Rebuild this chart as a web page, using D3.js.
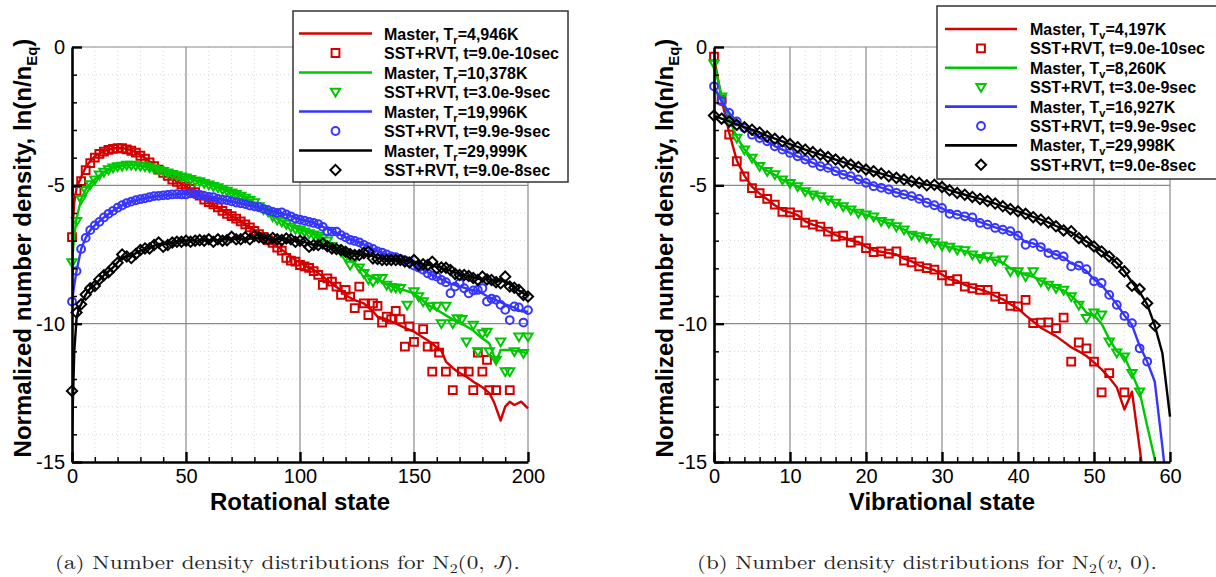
<!DOCTYPE html>
<html><head><meta charset="utf-8">
<script src="https://cdn.jsdelivr.net/npm/d3@7"></script>
<style>
body{margin:0;background:#fff;}
svg{display:block;}
text{font-family:"Liberation Sans",Arial,Helvetica,sans-serif;}
text.cap{font-family:"Latin Modern Roman","CMU Serif","Liberation Serif","DejaVu Serif",serif;}
</style></head><body>
<svg id="c" width="1216" height="577"></svg>
<script>
// ---------------- DATA ----------------
// Panel (a): rotational state J
const rotXTicks = [0, 50, 100, 150, 200];
const rotYTicks = [0, -5, -10, -15];
const rotMasterTemps = ["4,946K", "10,378K", "19,996K", "29,999K"];
const sstTimes = ["9.0e-10sec", "3.0e-9sec", "9.9e-9sec", "9.0e-8sec"];

const rotRedSymJ = [0,2,4,6,8,10,12,14,16,18,20,22,24,26,28,30,32,34,36,38,40,42,44,46,48,50,52,54,56,58,60,62,64,66,68,70,72,74,76,78,80,82,84,86,88,90,92,94,96,98,100,102,104,106,108,110,112,114,116,118,120,122,124,126,128,130,132,134,136,138,140,142,144,146,148,150,154,156,158,159,161,164,167,171,174,176,178,180,182,183,186,192];
const rotRedSymV = [-6.87,-5.2,-4.85,-4.45,-4.2,-4.0,-3.86,-3.78,-3.72,-3.68,-3.66,-3.66,-3.70,-3.75,-3.82,-3.93,-4.04,-4.17,-4.31,-4.43,-4.55,-4.66,-4.79,-4.87,-4.96,-5.05,-5.13,-5.25,-5.37,-5.52,-5.61,-5.69,-5.8,-5.92,-6.03,-6.11,-6.2,-6.3,-6.41,-6.52,-6.65,-6.76,-6.86,-6.98,-7.08,-7.25,-7.36,-7.62,-7.72,-7.76,-7.88,-7.93,-7.98,-8.1,-8.24,-8.6,-8.36,-8.48,-8.66,-8.96,-8.78,-9.02,-9.44,-8.66,-9.27,-9.69,-9.27,-9.36,-9.96,-9.75,-9.84,-9.54,-9.84,-10.83,-10.1,-10.66,-10.2,-10.83,-11.73,-10.83,-11.05,-11.73,-12.4,-11.73,-11.73,-12.4,-11.05,-11.73,-11.31,-12.4,-12.4,-12.4];
const rotRedLineJ = [0,1,2,4,6,8,10,14,18,22,26,30,34,38,42,46,50,54,58,62,66,70,74,78,82,86,90,94,98,102,106,110,114,118,121,124,128,132,134,138,142,146,150,153,156,160,162,164,167,169,173,177,180,183,185,188,190,192,194,197,200];
const rotRedLineV = [-6.9,-5.6,-5.1,-4.7,-4.35,-4.12,-3.95,-3.76,-3.66,-3.65,-3.73,-3.9,-4.14,-4.4,-4.65,-4.86,-5.04,-5.25,-5.5,-5.7,-5.92,-6.11,-6.3,-6.52,-6.75,-6.97,-7.2,-7.45,-7.7,-7.9,-8.05,-8.3,-8.55,-8.8,-9.02,-9.15,-9.27,-9.55,-9.75,-9.85,-9.99,-10.15,-10.29,-10.45,-10.6,-10.85,-10.98,-11.37,-11.6,-11.73,-11.92,-12.15,-12.3,-12.5,-12.82,-13.5,-13.0,-12.82,-12.94,-12.82,-13.06];

const rotGreenSymJ = [0,2,4,6,8,10,12,14,16,18,20,22,24,26,28,30,32,34,36,38,40,42,44,46,48,50,52,54,56,58,60,62,64,66,68,70,72,74,76,78,80,82,84,86,88,90,92,94,96,98,100,102,104,106,108,110,112,114,116,118,120,122,124,126,128,130,132,134,136,138,140,142,144,147,150,152,154,157,160,162,164,167,169,171,173,176,178,180,182,183,186,188,190,192,194,196,198,200];
const rotGreenSymV = [-7.79,-6.3,-5.5,-5.18,-4.97,-4.8,-4.62,-4.52,-4.43,-4.36,-4.32,-4.3,-4.26,-4.26,-4.28,-4.3,-4.32,-4.35,-4.4,-4.45,-4.49,-4.54,-4.6,-4.64,-4.69,-4.72,-4.78,-4.83,-4.86,-4.92,-4.98,-5.03,-5.08,-5.15,-5.2,-5.27,-5.32,-5.38,-5.46,-5.54,-5.62,-5.76,-5.87,-5.95,-6.12,-6.24,-6.31,-6.4,-6.5,-6.58,-6.61,-6.68,-6.74,-6.78,-6.83,-6.9,-7.0,-7.2,-7.3,-7.4,-7.6,-7.88,-7.64,-7.98,-8.18,-8.4,-8.48,-8.36,-8.36,-8.6,-8.68,-8.7,-8.72,-9.32,-8.84,-9.02,-9.2,-9.38,-9.36,-9.99,-9.36,-9.99,-9.81,-9.84,-10.65,-10.05,-11.0,-10.35,-10.3,-11.0,-11.31,-10.65,-11.73,-11.73,-11.0,-10.47,-11.07,-10.47];
const rotGreenLineJ = [0,1,2,4,6,8,10,14,18,22,26,30,34,38,42,46,50,54,58,62,66,70,74,78,82,86,90,94,98,102,106,110,114,118,122,126,130,134,138,142,146,150,153,156,160,164,168,172,176,179,183,186,188,192,196,200];
const rotGreenLineV = [-7.8,-6.8,-6.2,-5.5,-5.15,-4.95,-4.78,-4.52,-4.37,-4.3,-4.26,-4.3,-4.35,-4.45,-4.54,-4.64,-4.72,-4.83,-4.92,-5.03,-5.15,-5.27,-5.38,-5.54,-5.74,-5.95,-6.2,-6.38,-6.55,-6.66,-6.78,-6.92,-7.15,-7.42,-7.7,-7.95,-8.25,-8.4,-8.58,-8.7,-8.8,-8.9,-9.1,-9.32,-9.5,-9.7,-9.9,-10.05,-10.25,-10.47,-10.71,-11.37,-10.95,-10.95,-11.0,-11.07];

const rotBlueSymJ = [0,2,4,6,8,10,12,14,16,18,20,22,24,26,28,30,32,34,36,38,40,42,44,46,48,50,52,54,56,58,60,62,64,66,68,70,72,74,76,78,80,82,84,86,88,90,92,94,96,98,100,102,104,106,108,110,112,114,116,118,120,122,124,126,128,130,132,134,136,138,140,142,144,146,148,150,152,154,156,158,160,162,164,166,168,170,172,174,176,178,180,182,184,186,188,190,192,194,196,198,200];
const rotBlueSymV = [-9.2,-8.1,-7.3,-6.9,-6.62,-6.45,-6.32,-6.16,-6.03,-5.92,-5.81,-5.72,-5.64,-5.59,-5.54,-5.5,-5.47,-5.43,-5.39,-5.38,-5.36,-5.35,-5.33,-5.32,-5.33,-5.33,-5.29,-5.32,-5.35,-5.38,-5.42,-5.43,-5.49,-5.52,-5.54,-5.58,-5.62,-5.65,-5.68,-5.73,-5.76,-5.79,-5.85,-5.9,-5.96,-6.0,-5.98,-6.05,-6.12,-6.2,-6.24,-6.28,-6.32,-6.36,-6.4,-6.5,-6.66,-6.67,-6.67,-6.8,-6.88,-6.97,-7.01,-7.06,-7.15,-7.23,-7.3,-7.39,-7.43,-7.5,-7.57,-7.6,-7.66,-7.71,-7.78,-7.9,-7.97,-8.05,-8.18,-8.26,-8.3,-8.42,-8.5,-8.9,-8.66,-8.54,-8.72,-8.9,-8.8,-8.78,-8.72,-9.2,-9.1,-9.14,-9.32,-9.5,-9.87,-9.38,-9.41,-9.96,-9.51];
const rotBlueLineJ = [0,1,2,4,6,8,10,14,18,22,26,30,34,38,42,46,50,54,58,62,66,70,74,78,82,86,90,94,98,102,106,110,114,118,122,126,130,134,138,142,146,150,154,158,162,166,170,174,178,182,186,190,194,197,200];
const rotBlueLineV = [-9.2,-8.6,-8.1,-7.3,-6.9,-6.62,-6.45,-6.16,-5.92,-5.72,-5.59,-5.5,-5.43,-5.38,-5.35,-5.32,-5.31,-5.32,-5.38,-5.44,-5.52,-5.58,-5.65,-5.73,-5.8,-5.9,-5.98,-6.05,-6.18,-6.27,-6.36,-6.5,-6.64,-6.8,-6.95,-7.06,-7.22,-7.38,-7.5,-7.6,-7.71,-7.88,-8.04,-8.24,-8.4,-8.55,-8.65,-8.75,-8.82,-9.0,-9.15,-9.3,-9.42,-9.55,-9.57];

const rotBlackSymJ = [0,2,4,6,8,10,12,14,16,18,20,22,24,26,28,30,32,34,36,38,40,42,44,46,48,50,52,54,56,58,60,62,64,66,68,70,72,74,76,78,80,82,84,86,88,90,92,94,96,98,100,102,104,106,108,110,112,114,116,118,120,122,124,126,128,130,132,134,136,138,140,142,144,146,148,150,152,154,156,158,160,162,164,166,168,170,172,174,176,178,180,182,184,186,188,190,192,194,196,198,200];
const rotBlackSymV = [-12.43,-9.6,-9.3,-8.95,-8.72,-8.64,-8.4,-8.25,-8.14,-7.97,-7.8,-7.5,-7.57,-7.63,-7.48,-7.34,-7.28,-7.28,-7.16,-7.07,-7.22,-7.16,-7.07,-7.04,-7.04,-7.0,-7.04,-7.0,-6.98,-7.0,-6.95,-7.04,-6.95,-7.0,-6.98,-6.86,-6.95,-6.95,-6.88,-6.95,-6.83,-6.88,-6.92,-6.95,-6.9,-6.95,-6.98,-6.92,-6.95,-7.04,-7.0,-7.05,-7.22,-7.16,-7.16,-7.1,-7.2,-7.28,-7.3,-7.34,-7.4,-7.48,-7.52,-7.52,-7.45,-7.4,-7.64,-7.66,-7.7,-7.7,-7.7,-7.7,-7.7,-7.75,-7.79,-7.7,-7.88,-7.85,-7.88,-7.76,-8.0,-7.97,-7.98,-8.06,-8.2,-8.24,-8.24,-8.28,-8.35,-8.42,-8.3,-8.4,-8.42,-8.5,-8.54,-8.3,-8.66,-8.7,-8.78,-8.96,-9.02];
const rotBlackLineJ = [0,1,2,3,4,6,8,10,14,18,22,26,30,34,38,42,46,50,54,58,62,66,70,74,78,82,86,90,94,98,102,106,110,114,118,122,126,130,134,138,142,146,150,154,158,162,166,170,174,178,182,186,190,194,197,200];
const rotBlackLineV = [-14.0,-11.0,-9.8,-9.45,-9.3,-8.95,-8.72,-8.6,-8.25,-7.97,-7.6,-7.55,-7.36,-7.25,-7.12,-7.12,-7.04,-7.0,-7.0,-6.98,-6.98,-6.97,-6.92,-6.93,-6.92,-6.88,-6.92,-6.95,-6.95,-7.0,-7.05,-7.15,-7.15,-7.25,-7.35,-7.45,-7.5,-7.5,-7.63,-7.7,-7.7,-7.74,-7.76,-7.85,-7.9,-7.98,-8.08,-8.22,-8.28,-8.38,-8.38,-8.48,-8.45,-8.7,-8.85,-9.02];

// Panel (b): vibrational state v (index = v)
const vibXTicks = [0, 10, 20, 30, 40, 50, 60];
const vibYTicks = [0, -5, -10, -15];
const vibMasterTemps = ["4,197K", "8,260K", "16,927K", "29,998K"];

const vibRedSym = [-0.35,-1.9,-3.17,-4.13,-4.68,-5.10,-5.28,-5.49,-5.70,-5.96,-5.98,-6.08,-6.35,-6.42,-6.49,-6.67,-6.85,-6.82,-7.07,-7.0,-7.27,-7.41,-7.39,-7.47,-7.39,-7.72,-7.78,-7.93,-7.99,-8.05,-8.25,-8.45,-8.39,-8.66,-8.72,-8.78,-8.78,-9.02,-9.11,-9.36,-9.38,-9.14,-9.98,-9.96,-9.95,-10.16,-9.78,-11.37,-10.68,-10.89,-11.37,-12.48,-11.79,null,-12.48];
const vibRedLine = [-0.35,-1.9,-3.1,-4.1,-4.65,-5.05,-5.3,-5.5,-5.72,-5.9,-5.98,-6.08,-6.3,-6.42,-6.5,-6.66,-6.8,-6.88,-7.0,-7.05,-7.22,-7.35,-7.4,-7.45,-7.5,-7.65,-7.75,-7.9,-7.98,-8.06,-8.22,-8.4,-8.45,-8.6,-8.7,-8.76,-8.85,-9.0,-9.12,-9.3,-9.45,-9.7,-9.92,-10.15,-10.3,-10.45,-10.65,-10.85,-11.0,-11.17,-11.4,-11.65,-11.95,-12.3,-13.1,-12.46,-14.5,-16.5];
const vibGreenSym = [-0.6,-1.8,-2.69,-3.29,-3.71,-4.01,-4.31,-4.49,-4.61,-4.80,-4.92,-5.04,-5.22,-5.34,-5.40,-5.52,-5.64,-5.76,-5.88,-6.00,-6.06,-6.13,-6.30,-6.36,-6.49,-6.6,-6.79,-6.85,-6.91,-7.06,-7.18,-7.23,-7.33,-7.35,-7.51,-7.63,-7.57,-7.72,-7.69,-8.11,-8.11,-8.29,-8.11,-8.48,-8.6,-8.72,-8.78,-9.02,-9.32,-9.8,-9.6,-9.68,-10.65,-11.05,-11.19,-11.79,-12.46];
const vibGreenLine = [-0.6,-1.75,-2.6,-3.25,-3.7,-4.02,-4.3,-4.48,-4.62,-4.8,-4.93,-5.05,-5.2,-5.32,-5.41,-5.52,-5.64,-5.75,-5.87,-5.98,-6.07,-6.16,-6.28,-6.37,-6.48,-6.6,-6.75,-6.84,-6.92,-7.05,-7.16,-7.24,-7.32,-7.38,-7.5,-7.6,-7.62,-7.7,-7.8,-8.0,-8.12,-8.24,-8.3,-8.45,-8.58,-8.7,-8.8,-9.0,-9.25,-9.6,-9.7,-10.0,-10.55,-11.0,-11.2,-11.8,-12.46,-13.7,-14.9,-17];
const vibBlueSym = [-1.42,-1.96,-2.38,-2.69,-2.93,-3.17,-3.29,-3.41,-3.59,-3.71,-3.83,-3.95,-4.07,-4.19,-4.31,-4.37,-4.49,-4.61,-4.67,-4.79,-4.91,-5.03,-5.09,-5.15,-5.27,-5.33,-5.39,-5.49,-5.63,-5.72,-5.82,-6.03,-6.06,-6.12,-6.16,-6.36,-6.42,-6.54,-6.60,-6.66,-6.82,-7.15,-7.09,-7.23,-7.45,-7.51,-7.57,-7.93,-7.9,-8.03,-8.47,-8.53,-8.96,-9.32,-9.72,-9.98,-10.89,-11.37];
const vibBlueLine = [-1.42,-1.96,-2.38,-2.69,-2.93,-3.15,-3.29,-3.42,-3.58,-3.71,-3.83,-3.95,-4.07,-4.19,-4.3,-4.38,-4.49,-4.6,-4.68,-4.79,-4.9,-5.0,-5.08,-5.16,-5.26,-5.33,-5.4,-5.5,-5.62,-5.72,-5.83,-5.98,-6.05,-6.12,-6.2,-6.33,-6.42,-6.52,-6.6,-6.68,-6.82,-7.05,-7.1,-7.23,-7.4,-7.5,-7.6,-7.82,-7.92,-8.1,-8.4,-8.6,-8.95,-9.3,-9.7,-10.05,-10.8,-11.37,-12.1,-14.45,-17];
const vibBlackSym = [-2.48,-2.59,-2.69,-2.81,-2.90,-2.99,-3.09,-3.23,-3.32,-3.41,-3.51,-3.62,-3.71,-3.80,-3.89,-3.98,-4.07,-4.17,-4.25,-4.34,-4.43,-4.49,-4.57,-4.67,-4.73,-4.79,-4.85,-4.91,-5.0,-4.98,-5.06,-5.18,-5.28,-5.34,-5.42,-5.49,-5.57,-5.66,-5.76,-5.86,-5.94,-6.03,-6.15,-6.24,-6.34,-6.48,-6.63,-6.66,-6.91,-7.03,-7.21,-7.39,-7.57,-7.81,-8.11,-8.63,-8.75,-9.26,-10.07];
const vibBlackLine = [-2.48,-2.59,-2.69,-2.8,-2.9,-2.99,-3.09,-3.21,-3.31,-3.41,-3.51,-3.61,-3.71,-3.8,-3.89,-3.98,-4.07,-4.16,-4.25,-4.34,-4.42,-4.5,-4.58,-4.66,-4.73,-4.79,-4.86,-4.92,-4.98,-5.0,-5.07,-5.17,-5.26,-5.34,-5.42,-5.49,-5.57,-5.66,-5.76,-5.85,-5.94,-6.03,-6.14,-6.24,-6.34,-6.47,-6.58,-6.7,-6.88,-7.03,-7.2,-7.38,-7.57,-7.8,-8.1,-8.5,-8.85,-9.3,-10.07,-11.07,-13.36];

const seriesColors = ["#d40000", "#00c800", "#3535ff", "#000000"];
const seriesSymbols = ["square", "triangle", "circle", "diamond"];

// ---------------- DRAW ----------------
const svg = d3.select("#c");

function symbolPath(type) {
  if (type === "square") return "M-3.9,-3.9H3.9V3.9H-3.9Z";
  if (type === "triangle") return "M-4.6,-3.2H4.6L0,4.6Z";
  if (type === "diamond") return "M0,-5.1L5.1,0L0,5.1L-5.1,0Z";
  return "";
}
function drawSymbol(g, type, x, y, color) {
  if (type === "circle") {
    g.append("circle").attr("cx", x).attr("cy", y).attr("r", 3.9)
      .attr("fill", "none").attr("stroke", color).attr("stroke-width", 2);
  } else {
    g.append("path").attr("d", symbolPath(type)).attr("transform", `translate(${x},${y})`)
      .attr("fill", "none").attr("stroke", color).attr("stroke-width", 2).attr("stroke-linejoin", "miter");
  }
}

function panel(cfg) {
  const x = d3.scaleLinear().domain(cfg.xDomain).range([cfg.left, cfg.right]);
  const y = d3.scaleLinear().domain([0, -15]).range([cfg.top, cfg.bottom]);
  const g = svg.append("g");
  const id = cfg.id;

  // minor dotted grid
  g.append("g").selectAll("line").data(cfg.xMinor).join("line")
    .attr("x1", d => x(d)).attr("x2", d => x(d)).attr("y1", cfg.top).attr("y2", cfg.bottom)
    .attr("stroke", "#d8d8d8").attr("stroke-width", 1).attr("stroke-dasharray", "1,3");
  g.append("g").selectAll("line").data(cfg.yMinor).join("line")
    .attr("y1", d => y(d)).attr("y2", d => y(d)).attr("x1", cfg.left).attr("x2", cfg.right)
    .attr("stroke", "#d8d8d8").attr("stroke-width", 1).attr("stroke-dasharray", "1,3");
  // major grid
  g.append("g").selectAll("line").data(cfg.xTicks.filter(d => d !== cfg.xDomain[0])).join("line")
    .attr("x1", d => x(d)).attr("x2", d => x(d)).attr("y1", cfg.top).attr("y2", cfg.bottom)
    .attr("stroke", "#8a8a8a").attr("stroke-width", 1.2);
  g.append("g").selectAll("line").data(cfg.yTicks.filter(d => d !== -15)).join("line")
    .attr("y1", d => y(d)).attr("y2", d => y(d)).attr("x1", cfg.left).attr("x2", cfg.right)
    .attr("stroke", "#8a8a8a").attr("stroke-width", 1.2);

  // clip for lines
  svg.append("clipPath").attr("id", id).append("rect")
    .attr("x", cfg.left).attr("y", cfg.top - 2).attr("width", cfg.right - cfg.left + 2).attr("height", cfg.bottom - cfg.top + 2);

  const line = d3.line().defined(d => d[1] !== null).x(d => x(d[0])).y(d => y(d[1]));
  cfg.series.forEach((s, i) => {
    const lg = g.append("g").attr("clip-path", `url(#${id})`);
    lg.append("path").datum(s.line).attr("d", line).attr("fill", "none")
      .attr("stroke", seriesColors[i]).attr("stroke-width", 2.4).attr("stroke-linejoin", "round");
    const sg = g.append("g");
    s.sym.forEach(d => { if (d[1] !== null) drawSymbol(sg, seriesSymbols[i], x(d[0]), y(d[1]), seriesColors[i]); });
  });

  // axes
  const ax = d3.axisBottom(x).tickValues(cfg.xTicks).tickSizeInner(-10).tickSizeOuter(0).tickPadding(7).tickFormat(d => String(d));
  const axm = d3.axisBottom(x).tickValues(cfg.xMinor).tickSizeInner(-5).tickSizeOuter(0).tickFormat("");
  const ay = d3.axisLeft(y).tickValues(cfg.yTicks).tickSizeInner(-10).tickSizeOuter(0).tickPadding(7).tickFormat(d => String(d));
  const aym = d3.axisLeft(y).tickValues(cfg.yMinor).tickSizeInner(-5).tickSizeOuter(0).tickFormat("");

  const gxm = g.append("g").attr("transform", `translate(0,${cfg.bottom})`).call(axm);
  gxm.select(".domain").remove();
  gxm.selectAll(".tick line").attr("stroke", "#000").attr("stroke-width", 1.5);
  const gym = g.append("g").attr("transform", `translate(${cfg.left},0)`).call(aym);
  gym.select(".domain").remove();
  gym.selectAll(".tick line").attr("stroke", "#000").attr("stroke-width", 1.5);

  const gx = g.append("g").attr("transform", `translate(0,${cfg.bottom})`).call(ax);
  gx.select(".domain").attr("stroke", "#000").attr("stroke-width", 2.6);
  gx.selectAll(".tick line").attr("stroke", "#000").attr("stroke-width", 2.4);
  gx.selectAll(".tick text").attr("font-size", 20).attr("fill", "#000")
    .style("font-family", "'Liberation Sans', Arial, sans-serif");
  const gy = g.append("g").attr("transform", `translate(${cfg.left},0)`).call(ay);
  gy.select(".domain").attr("stroke", "#000").attr("stroke-width", 2.6);
  gy.selectAll(".tick line").attr("stroke", "#000").attr("stroke-width", 2.4);
  gy.selectAll(".tick text").attr("font-size", 20).attr("fill", "#000")
    .style("font-family", "'Liberation Sans', Arial, sans-serif");

  // axis titles
  g.append("text").attr("x", (cfg.left + cfg.right) / 2).attr("y", 510)
    .attr("text-anchor", "middle").attr("font-size", 24).attr("font-weight", "bold").text(cfg.xTitle);
  const yt = g.append("text").attr("transform", `translate(${cfg.left - 41},248) rotate(-90)`)
    .attr("text-anchor", "middle").attr("font-size", 24).attr("font-weight", "bold");
  yt.append("tspan").text("Normalized number density, ln(n/n");
  yt.append("tspan").attr("font-size", 15).attr("dy", 6).text("Eq");
  yt.append("tspan").attr("dy", -6).text(")");

  // legend
  const L = cfg.legend;
  const lg = svg.append("g");
  lg.append("rect").attr("x", L.x).attr("y", L.y).attr("width", L.w).attr("height", L.h)
    .attr("fill", "#fff").attr("stroke", "#333").attr("stroke-width", 1.5);
  for (let i = 0; i < 4; i++) {
    const cy1 = L.row0 + L.step * (2 * i);
    const cy2 = L.row0 + L.step * (2 * i + 1);
    lg.append("line").attr("x1", L.lx1).attr("x2", L.lx2).attr("y1", cy1).attr("y2", cy1)
      .attr("stroke", seriesColors[i]).attr("stroke-width", 2.6);
    const t1 = lg.append("text").attr("x", L.tx).attr("y", cy1 + 6).attr("font-size", 16).attr("font-weight", "bold");
    t1.append("tspan").text("Master, T");
    t1.append("tspan").attr("font-size", 11).attr("dy", 4).text(cfg.sub);
    t1.append("tspan").attr("dy", -4).text("=" + cfg.temps[i]);
    drawSymbol(lg, seriesSymbols[i], (L.lx1 + L.lx2) / 2, cy2, seriesColors[i]);
    lg.append("text").attr("x", L.tx).attr("y", cy2 + 6).attr("font-size", 16).attr("font-weight", "bold")
      .text("SST+RVT, t=" + sstTimes[i]);
  }
}

const zip = (a, b) => a.map((d, i) => [d, b[i]]);
const idx = arr => arr.map((d, i) => [i, d]);

panel({
  id: "clipA", xDomain: [0, 200], left: 72, right: 528, top: 47, bottom: 462,
  xTicks: rotXTicks, yTicks: rotYTicks,
  xMinor: [10,20,30,40,60,70,80,90,110,120,130,140,160,170,180,190],
  yMinor: [-1,-2,-3,-4,-6,-7,-8,-9,-11,-12,-13,-14],
  xTitle: "Rotational state", sub: "r", temps: rotMasterTemps,
  series: [
    { line: zip(rotRedLineJ, rotRedLineV), sym: zip(rotRedSymJ, rotRedSymV) },
    { line: zip(rotGreenLineJ, rotGreenLineV), sym: zip(rotGreenSymJ, rotGreenSymV) },
    { line: zip(rotBlueLineJ, rotBlueLineV), sym: zip(rotBlueSymJ, rotBlueSymV) },
    { line: zip(rotBlackLineJ, rotBlackLineV), sym: zip(rotBlackSymJ, rotBlackSymV) }
  ],
  legend: { x: 293, y: 11, w: 275, h: 171, row0: 33.5, step: 19.5, lx1: 299, lx2: 372, tx: 384 }
});

panel({
  id: "clipB", xDomain: [0, 60], left: 714, right: 1170, top: 47, bottom: 462,
  xTicks: vibXTicks, yTicks: vibYTicks,
  xMinor: [2,4,6,8,12,14,16,18,22,24,26,28,32,34,36,38,42,44,46,48,52,54,56,58],
  yMinor: [-1,-2,-3,-4,-6,-7,-8,-9,-11,-12,-13,-14],
  xTitle: "Vibrational state", sub: "v", temps: vibMasterTemps,
  series: [
    { line: idx(vibRedLine), sym: idx(vibRedSym) },
    { line: idx(vibGreenLine), sym: idx(vibGreenSym) },
    { line: idx(vibBlueLine), sym: idx(vibBlueSym) },
    { line: idx(vibBlackLine), sym: idx(vibBlackSym) }
  ],
  legend: { x: 937, y: 6, w: 290, h: 173, row0: 29, step: 19.4, lx1: 945, lx2: 1017, tx: 1030 }
});

// captions
function caption(x, w, letter, arg1, arg2, italicFirst) {
  const t = svg.append("text").attr("class", "cap").attr("x", x).attr("y", 569)
    .attr("font-size", 19).attr("fill", "#222")
    .attr("textLength", w).attr("lengthAdjust", "spacingAndGlyphs");
  t.append("tspan").text(`(${letter}) Number density distributions for N`);
  t.append("tspan").attr("font-size", 13).attr("dy", 4).text("2");
  t.append("tspan").attr("dy", -4).text("(");
  t.append("tspan").attr("font-style", italicFirst ? "italic" : "normal").text(arg1);
  t.append("tspan").text(", ");
  t.append("tspan").attr("font-style", italicFirst ? "normal" : "italic").text(arg2);
  t.append("tspan").text(").");
}
caption(55, 465, "a", "0", "J", false);
caption(697, 460, "b", "v", "0", true);
</script>
</body></html>
